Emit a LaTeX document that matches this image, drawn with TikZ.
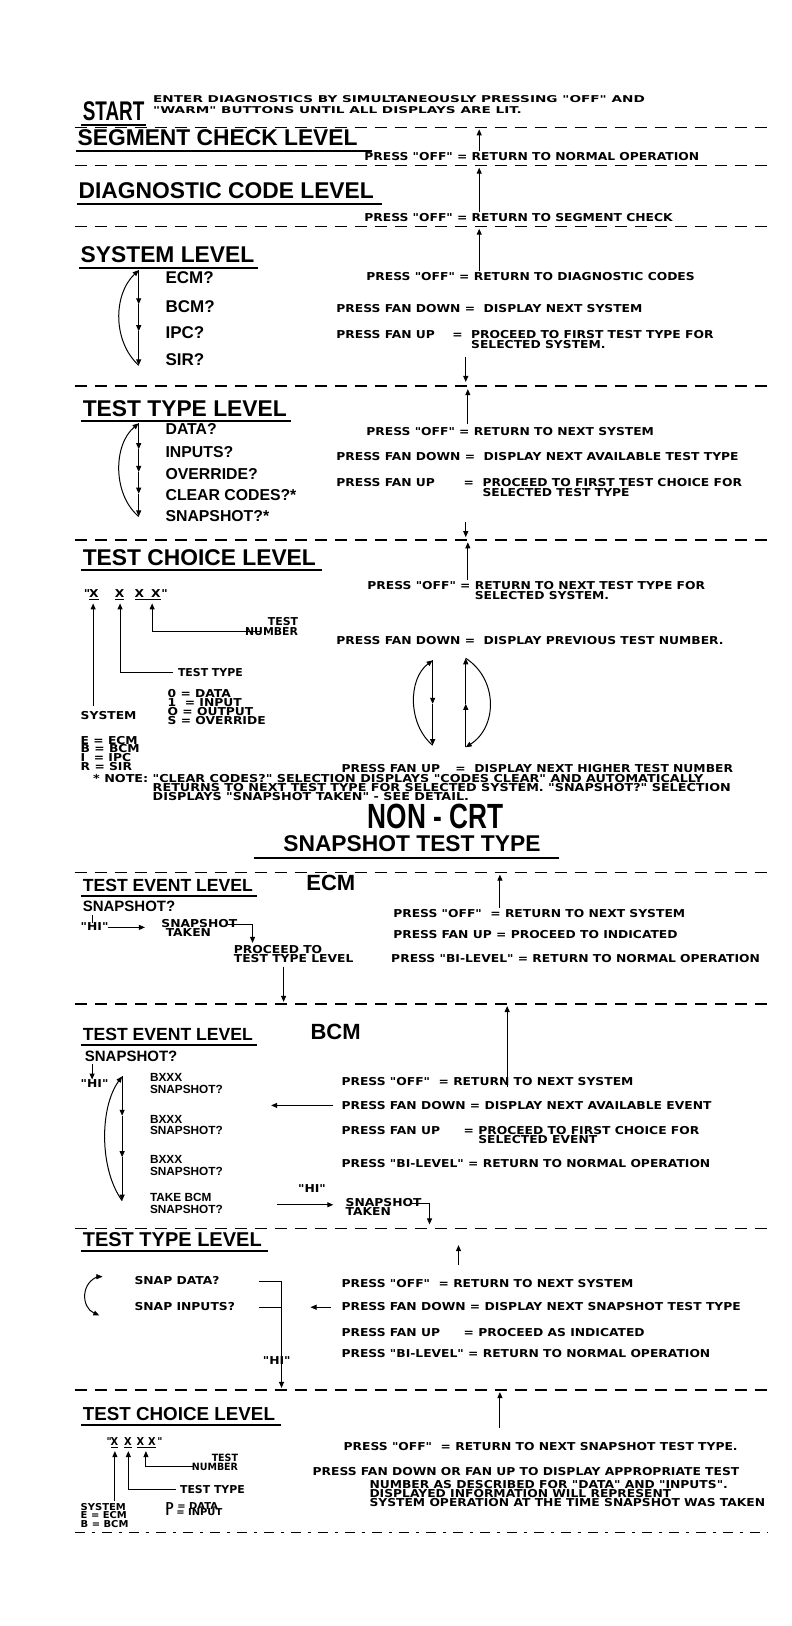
\documentclass[tikz,border=0pt]{standalone}
\usepackage{fontspec}
\setmainfont{Liberation Sans}
\newfontfamily\dvfont{DejaVu Sans}
\usetikzlibrary{arrows.meta}
\newcommand\sm[2][1.13]{\scalebox{#1}[1]{\dvfont\bfseries\fontsize{10.9}{10.9}\selectfont #2}}
% stacked lines: [xscale]{font size}{line distance}{rows separated by \cr}
\newcommand\stL[4][1.13]{\scalebox{#1}[1]{\dvfont\bfseries\fontsize{#2}{#3}\selectfont\vtop{\lineskiplimit=-100pt\lineskip=0pt\halign{##\hfil\cr#4\crcr}}}}
\newcommand\stR[4][1.13]{\scalebox{#1}[1]{\dvfont\bfseries\fontsize{#2}{#3}\selectfont\vtop{\lineskiplimit=-100pt\lineskip=0pt\halign{\hfil##\cr#4\crcr}}}}
\newcommand\hd[1]{{\bfseries\fontsize{22.8}{22.8}\selectfont #1}}
\newcommand\hs[2][17.6]{{\bfseries\fontsize{#1}{#1}\selectfont #2}}
\newcommand\itm[2][16]{{\bfseries\fontsize{#1}{#1}\selectfont #2}}
\newcommand\itb[2][12.5]{{\bfseries\fontsize{#1}{#1}\selectfont #2}}
\newcommand\itS[2][11.8]{{\bfseries\fontsize{#1}{#1}\selectfont\vtop{\lineskiplimit=-100pt\lineskip=0pt\halign{##\hfil\cr#2\crcr}}}}
\newcommand\dline[1]{\draw[dsh] (72,#1) -- (742,#1);}
\newcommand\ulnode[2]{\draw[ul] ([yshift=-5pt,xshift=-2pt]#1.base west) -- ([yshift=-5pt,xshift=#2]#1.base east);}
\begin{document}
\begin{tikzpicture}[x=1.035pt,y=-1.035pt,
  T/.style={anchor=base west,inner sep=0pt,outer sep=0pt},
  TE/.style={anchor=base east,inner sep=0pt,outer sep=0pt},
  TC/.style={anchor=base,inner sep=0pt,outer sep=0pt},
  dsh/.style={line width=1.6pt,dash pattern=on 12pt off 8pt},
  ul/.style={line width=1.9pt},
  ln/.style={line width=1pt},
  ar/.style={line width=1pt,-{Triangle[length=6pt,width=5pt]}}]
\useasboundingbox (0,0) rectangle (765.2,1571);
\fill[white] (0,0) rectangle (765.2,1571);

% ---------------- TOP
\node[T] (st) at (80,116) {\scalebox{0.7}[1]{\bfseries\fontsize{27}{27}\selectfont START}};
\ulnode{st}{2pt}
\node[T] (ins) at (148,99) {\stL[1.45]{9.4}{11.2}{ENTER DIAGNOSTICS BY SIMULTANEOUSLY PRESSING "OFF" AND\cr "WARM" BUTTONS UNTIL ALL DISPLAYS ARE LIT.}};
\dline{123}
\node[T] (seg) at (75,141) {\hd{SEGMENT CHECK LEVEL}};
\ulnode{seg}{14pt}
\coordinate (a1s) at (463,146); \coordinate (a1e) at (463,125);
\draw[ar] (a1s) -- (a1e);
\node[T] (p1) at (352,155) {\sm{PRESS "OFF" = RETURN TO NORMAL OPERATION}};
\dline{160}
\coordinate (a2s) at (463,205); \coordinate (a2e) at (463,162);
\draw[ar] (a2s) -- (a2e);
\node[T] (diag) at (76,192) {\hd{DIAGNOSTIC CODE LEVEL}};
\ulnode{diag}{8pt}
\node[T] (p2) at (352,214) {\sm{PRESS "OFF" = RETURN TO SEGMENT CHECK}};
\dline{219}
\coordinate (a3s) at (463,262); \coordinate (a3e) at (463,221);
\draw[ar] (a3s) -- (a3e);

% ---------------- SYSTEM LEVEL
\node[T] (sys) at (78,254) {\hd{SYSTEM LEVEL}};
\ulnode{sys}{4pt}
\node[T] (ecm) at (160,274) {\itm[17]{ECM?}};
\node[T] (bcm) at (160,302) {\itm[17]{BCM?}};
\node[T] (ipc) at (160,327) {\itm[17]{IPC?}};
\node[T] (sir) at (160,353) {\itm[17]{SIR?}};
\coordinate (s0) at (134,261); \coordinate (s1) at (134,294);
\coordinate (s2) at (134,320); \coordinate (s3) at (134,353);
\draw[ar] (s0) -- (s1); \draw[ar] (s1) -- (s2); \draw[ar] (s2) -- (s3);
\draw[ar] (s3) .. controls (109,330) and (109,285) .. (s0);
\node[T] (p3) at (354,271) {\sm{PRESS "OFF" = RETURN TO DIAGNOSTIC CODES}};
\node[T] (p4) at (325,302) {\sm{PRESS FAN DOWN =\ \ DISPLAY NEXT SYSTEM}};
\node[T] (p5) at (325,327) {\sm{PRESS FAN UP}};
\node[T] (p5b) at (437,327) {\stL{10.9}{10}{=\ \ PROCEED TO FIRST TEST TYPE FOR\cr \hphantom{=\ \ }SELECTED SYSTEM.}};
\coordinate (a4s) at (450,345); \coordinate (a4e) at (450,369);
\draw[ar] (a4s) -- (a4e);
\dline{373}

% ---------------- TEST TYPE LEVEL
\coordinate (a5s) at (452,410); \coordinate (a5e) at (452,376);
\draw[ar] (a5s) -- (a5e);
\node[T] (ttl) at (80,402) {\hd{TEST TYPE LEVEL}};
\ulnode{ttl}{4pt}
\node[T] (dat) at (160,420) {\itm[15.8]{DATA?}};
\node[T] (inp) at (160,442) {\itm[15.8]{INPUTS?}};
\node[T] (ovr) at (160,463) {\itm[15.8]{OVERRIDE?}};
\node[T] (clr) at (160,484) {\itm[15.8]{CLEAR CODES?*}};
\node[T] (snp) at (160,504) {\itm[15.8]{SNAPSHOT?*}};
\coordinate (t0) at (134,409); \coordinate (t1) at (134,434);
\coordinate (t2) at (134,456); \coordinate (t3) at (134,477);
\coordinate (t4) at (134,499);
\draw[ar] (t0) -- (t1); \draw[ar] (t1) -- (t2); \draw[ar] (t2) -- (t3); \draw[ar] (t3) -- (t4);
\draw[ar] (t4) .. controls (109,478) and (109,430) .. (t0);
\node[T] (p6) at (354,421) {\sm{PRESS "OFF" = RETURN TO NEXT SYSTEM}};
\node[T] (p7) at (325,445) {\sm{PRESS FAN DOWN =\ \ DISPLAY NEXT AVAILABLE TEST TYPE}};
\node[T] (p8) at (325,470) {\sm{PRESS FAN UP}};
\node[T] (p8b) at (448,470) {\stL{10.9}{10.5}{=\ \ PROCEED TO FIRST TEST CHOICE FOR\cr \hphantom{=\ \ }SELECTED TEST TYPE}};
\coordinate (a6s) at (450,504); \coordinate (a6e) at (450,519);
\draw[ar] (a6s) -- (a6e);
\dline{522}

% ---------------- TEST CHOICE LEVEL
\coordinate (a7s) at (452,560); \coordinate (a7e) at (452,524);
\draw[ar] (a7s) -- (a7e);
\node[T] (tcl) at (80,546) {\hd{TEST CHOICE LEVEL}};
\ulnode{tcl}{6pt}
\node[T] (q1) at (81,577) {\sm{"}};
\node[T] (x1) at (86,577) {\sm{X}};
\node[T] (x2) at (111,577) {\sm{X}};
\node[T] (x3) at (130,577) {\sm{X}};
\node[T] (x4) at (146,577) {\sm{X}};
\node[T] (q2) at (156,577) {\sm{"}};
\draw[ln] ([yshift=-2pt]x1.base west) -- ([yshift=-2pt]x1.base east);
\draw[ln] ([yshift=-2pt]x2.base west) -- ([yshift=-2pt]x2.base east);
\draw[ln] ([yshift=-2pt]x3.base west) -- ([yshift=-2pt]x4.base east);
\node[TE] (tn) at (288,604) {\stR[1.0]{10.9}{10}{TEST\cr NUMBER}};
\coordinate (c3a) at (252,610); \coordinate (c3b) at (147,610); \coordinate (c3c) at (147,583);
\draw[ar] (c3a) -- (c3b) -- (c3c);
\node[T] (tty) at (172,654) {\sm[1.0]{TEST TYPE}};
\coordinate (c2a) at (167,650); \coordinate (c2b) at (116,650); \coordinate (c2c) at (116,583);
\draw[ar] (c2a) -- (c2b) -- (c2c);
\node[T] (lg) at (162,674) {\stL{10.9}{9}{0 = DATA\cr 1\ \ = INPUT\cr O = OUTPUT\cr S = OVERRIDE}};
\node[T] (sysl) at (78,695) {\sm{SYSTEM}};
\coordinate (c1a) at (90,682); \coordinate (c1b) at (90,583);
\draw[ar] (c1a) -- (c1b);
\node[T] (sl) at (78,719) {\stL{10.9}{8.7}{E = ECM\cr B = BCM\cr I\ \ = IPC\cr R = SIR}};
\node[T] (p9) at (355,570) {\stL{10.9}{10}{PRESS "OFF" = RETURN TO NEXT TEST TYPE FOR\cr \hphantom{PRESS "OFF" = }SELECTED SYSTEM.}};
\node[T] (p10) at (325,623) {\sm{PRESS FAN DOWN =\ \ DISPLAY PREVIOUS TEST NUMBER.}};
\coordinate (L0) at (418,638); \coordinate (L1) at (418,680); \coordinate (L2) at (418,720);
\draw[ar] (L0) -- (L1); \draw[ar] (L1) -- (L2);
\draw[ar] (L2) .. controls (394,700) and (394,656) .. (L0);
\coordinate (R0) at (450,636); \coordinate (R1) at (450,680); \coordinate (R2) at (450,722);
\draw[ar] (R2) -- (R1); \draw[ar] (R1) -- (R0);
\draw[ar] (R0) .. controls (481,656) and (481,702) .. (R2);
\node[T] (p11) at (330,746) {\sm{PRESS FAN UP}};
\node[T] (p11b) at (440,746) {\sm{=\ \ DISPLAY NEXT HIGHER TEST NUMBER}};
\node[T] (note) at (90,756) {\stL[1.17]{10.9}{9}{* NOTE: "CLEAR CODES?" SELECTION DISPLAYS "CODES CLEAR" AND AUTOMATICALLY\cr \hphantom{* NOTE: }RETURNS TO NEXT TEST TYPE FOR SELECTED SYSTEM. "SNAPSHOT?" SELECTION\cr \hphantom{* NOTE: }DISPLAYS "SNAPSHOT TAKEN" - SEE DETAIL.}};

% ---------------- NON-CRT
\node[TC] (ncrt) at (421,800) {\scalebox{0.75}[1]{\bfseries\fontsize{35}{35}\selectfont NON - CRT}};
\node[TC] (stt) at (398,823) {\hd{SNAPSHOT TEST TYPE}};
\coordinate (u1) at (245,829); \coordinate (u2) at (540,829);
\draw[ul] (u1) -- (u2);
\dline{843}

% ---------------- ECM event level
\coordinate (a8s) at (483,877); \coordinate (a8e) at (483,845);
\draw[ar] (a8s) -- (a8e);
\node[T] (tel1) at (80,861) {\hs{TEST EVENT LEVEL}};
\ulnode{tel1}{4pt}
\node[T] (ecmh) at (296,860) {\bfseries\fontsize{22}{22}\selectfont ECM};
\node[T] (sn1) at (80,881) {\itb[15]{SNAPSHOT?}};
\coordinate (k1) at (89,884); \coordinate (k2) at (89,892);
\draw[ln] (k1) -- (k2);
\node[T] (hi1) at (78,899) {\sm{"HI"}};
\coordinate (h1a) at (104,896); \coordinate (h1b) at (140,896);
\draw[ar] (h1a) -- (h1b);
\node[T] (stk1) at (156,896) {\stL{10.9}{9}{SNAPSHOT\cr \ TAKEN}};
\coordinate (g1) at (220,893); \coordinate (g2) at (244,893); \coordinate (g3) at (244,911);
\draw[ar] (g1) -- (g2) -- (g3);
\node[T] (pt) at (226,921) {\stL{10.9}{9}{PROCEED TO\cr TEST TYPE LEVEL}};
\coordinate (a9s) at (274,934); \coordinate (a9e) at (274,968);
\draw[ar] (a9s) -- (a9e);
\node[T] (p12) at (380,886) {\sm{PRESS "OFF"\ \ = RETURN TO NEXT SYSTEM}};
\node[T] (p13) at (380,907) {\sm{PRESS FAN UP = PROCEED TO INDICATED}};
\node[T] (p14) at (378,930) {\sm{PRESS "BI-LEVEL" = RETURN TO NORMAL OPERATION}};
\dline{970}

% ---------------- BCM event level
\coordinate (b1s) at (490,1050); \coordinate (b1e) at (490,972);
\draw[ar] (b1s) -- (b1e);
\node[T] (tel2) at (80,1005) {\hs{TEST EVENT LEVEL}};
\ulnode{tel2}{4pt}
\node[T] (bcmh) at (300,1004) {\bfseries\fontsize{22}{22}\selectfont BCM};
\node[T] (sn2) at (82,1026) {\itb[15]{SNAPSHOT?}};
\coordinate (k3) at (89,1028); \coordinate (k4) at (89,1043);
\draw[ar] (k3) -- (k4);
\node[T] (hi2) at (78,1051) {\sm{"HI"}};
\node[T] (bx1) at (145,1045) {\itS{BXXX\cr SNAPSHOT?}};
\node[T] (bx2) at (145,1085) {\itS{BXXX\cr SNAPSHOT?}};
\node[T] (bx3) at (145,1124) {\itS{BXXX\cr SNAPSHOT?}};
\node[T] (bt) at (145,1161) {\itS{TAKE BCM\cr SNAPSHOT?}};
\coordinate (m0) at (118,1040); \coordinate (m1) at (118,1078);
\coordinate (m2) at (118,1118); \coordinate (m3) at (118,1160);
\draw[ar] (m0) -- (m1); \draw[ar] (m1) -- (m2); \draw[ar] (m2) -- (m3);
\draw[ar] (m3) .. controls (96,1130) and (96,1070) .. (m0);
\node[T] (p15) at (330,1049) {\sm{PRESS "OFF"\ \ = RETURN TO NEXT SYSTEM}};
\coordinate (b2s) at (322,1068); \coordinate (b2e) at (262,1068);
\draw[ar] (b2s) -- (b2e);
\node[T] (p16) at (330,1072) {\sm{PRESS FAN DOWN = DISPLAY NEXT AVAILABLE EVENT}};
\node[T] (p17) at (330,1096) {\sm{PRESS FAN UP}};
\node[T] (p17b) at (448,1096) {\stL{10.9}{9}{= PROCEED TO FIRST CHOICE FOR\cr \hphantom{= }SELECTED EVENT}};
\node[T] (p18) at (330,1128) {\sm{PRESS "BI-LEVEL" = RETURN TO NORMAL OPERATION}};
\node[T] (hi3) at (288,1152) {\sm{"HI"}};
\coordinate (b3s) at (268,1164); \coordinate (b3e) at (322,1164);
\draw[ar] (b3s) -- (b3e);
\node[T] (bst) at (334,1166) {\stL{10.9}{9}{SNAPSHOT\cr TAKEN}};
\coordinate (f1) at (398,1163); \coordinate (f2) at (415,1163); \coordinate (f3) at (415,1183);
\draw[ar] (f1) -- (f2) -- (f3);
\dline{1187}

% ---------------- snapshot TEST TYPE LEVEL
\node[T] (ttl2) at (80,1204) {\hs[20]{TEST TYPE LEVEL}};
\ulnode{ttl2}{6pt}
\coordinate (c5s) at (443,1222); \coordinate (c5e) at (443,1203);
\draw[ar] (c5s) -- (c5e);
\node[T] (sd) at (130,1241) {\sm{SNAP DATA?}};
\node[T] (si2) at (130,1266) {\sm{SNAP INPUTS?}};
\coordinate (r0) at (96,1233); \coordinate (r1) at (96,1271);
\draw[ar] (r0) .. controls (78,1238) and (78,1263) .. (r1);
\draw[-{Triangle[length=6pt,width=5pt]}] ([yshift=-0.5pt]r0) -- ++(3,0);
\coordinate (e1) at (250,1238); \coordinate (e2) at (272,1238);
\coordinate (e3) at (250,1263); \coordinate (e4) at (272,1263);
\coordinate (e5) at (272,1341);
\draw[ln] (e1) -- (e2);
\draw[ln] (e3) -- (e4);
\draw[ar] (e2) -- (e5);
\node[T] (hi4) at (254,1318) {\sm{"HI"}};
\coordinate (c6s) at (320,1263); \coordinate (c6e) at (300,1263);
\draw[ar] (c6s) -- (c6e);
\node[T] (p19) at (330,1244) {\sm{PRESS "OFF"\ \ = RETURN TO NEXT SYSTEM}};
\node[T] (p20) at (330,1266) {\sm{PRESS FAN DOWN = DISPLAY NEXT SNAPSHOT TEST TYPE}};
\node[T] (p21) at (330,1291) {\sm{PRESS FAN UP}};
\node[T] (p21b) at (448,1291) {\sm{= PROCEED AS INDICATED}};
\node[T] (p22) at (330,1312) {\sm{PRESS "BI-LEVEL" = RETURN TO NORMAL OPERATION}};
\dline{1343}

% ---------------- snapshot TEST CHOICE LEVEL
\coordinate (c7s) at (483,1380); \coordinate (c7e) at (483,1345);
\draw[ar] (c7s) -- (c7e);
\node[T] (tcl2) at (80,1372) {\hs[18.8]{TEST CHOICE LEVEL}};
\ulnode{tcl2}{6pt}
\node[T] (y0) at (103,1397) {\sm[0.9]{"}};
\node[T] (y1) at (107,1397) {\sm[0.9]{X}};
\node[T] (y2) at (120,1397) {\sm[0.9]{X}};
\node[T] (y3) at (132,1397) {\sm[0.9]{X}};
\node[T] (y4) at (143,1397) {\sm[0.9]{X}};
\node[T] (y5) at (152,1397) {\sm[0.9]{"}};
\draw[ln] ([yshift=-2pt]y1.base west) -- ([yshift=-2pt]y1.base east);
\draw[ln] ([yshift=-2pt]y2.base west) -- ([yshift=-2pt]y2.base east);
\draw[ln] ([yshift=-2pt]y3.base west) -- ([yshift=-2pt]y4.base east);
\node[TE] (tn2) at (230,1412) {\stR[0.95]{10}{9}{TEST\cr NUMBER}};
\coordinate (d3a) at (186,1417); \coordinate (d3b) at (141,1417); \coordinate (d3c) at (141,1402);
\draw[ar] (d3a) -- (d3b) -- (d3c);
\node[T] (tty2) at (174,1443) {\sm[1.0]{TEST TYPE}};
\coordinate (d2a) at (170,1439); \coordinate (d2b) at (124,1439); \coordinate (d2c) at (124,1402);
\draw[ar] (d2a) -- (d2b) -- (d2c);
\coordinate (d1a) at (111,1450); \coordinate (d1b) at (111,1402);
\draw[ar] (d1a) -- (d1b);
\node[T] (sys2) at (78,1459) {\stL[1.05]{9.5}{8.5}{SYSTEM\cr E = ECM\cr B = BCM}};
\node[T] (dd) at (160,1458) {\stL[1.05]{9.5}{6.5}{D = DATA\cr I\ \ = INPUT}};
\node[T] (p23) at (332,1401) {\sm{PRESS "OFF"\ \ = RETURN TO NEXT SNAPSHOT TEST TYPE.}};
\node[T] (p24) at (302,1426) {\sm{PRESS FAN DOWN OR FAN UP TO DISPLAY APPROPRIATE TEST}};
\node[T] (p25) at (357,1438) {\stL{10.9}{9}{NUMBER AS DESCRIBED FOR "DATA" AND "INPUTS".\cr DISPLAYED INFORMATION WILL REPRESENT\cr SYSTEM OPERATION AT THE TIME SNAPSHOT WAS TAKEN}};
\draw[line width=1pt,dash pattern=on 10pt off 7pt on 3pt off 7pt] (72,1481) -- (742,1481);
\end{tikzpicture}
\end{document}
